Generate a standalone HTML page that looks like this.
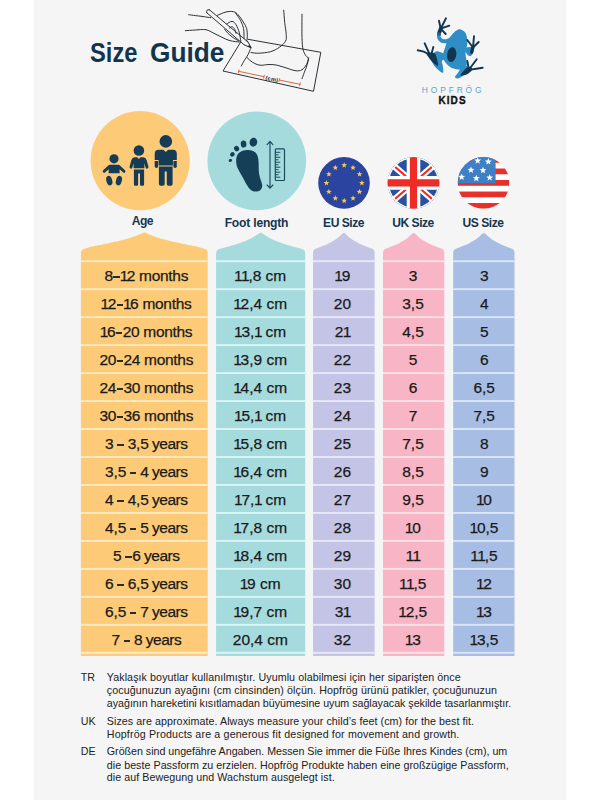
<!DOCTYPE html>
<html><head><meta charset="utf-8"><title>Size Guide</title>
<style>
html,body{margin:0;padding:0;background:#fff;}
body{width:600px;height:800px;position:relative;overflow:hidden;font-family:"Liberation Sans",sans-serif;}
#bg{position:absolute;left:34px;top:0;width:532px;height:800px;background:#f5f5f5;}
svg#art{position:absolute;left:0;top:0;}
.t{position:absolute;white-space:nowrap;}
#title{left:0;top:36.2px;font-size:28.4px;font-weight:bold;color:#12344d;line-height:32px;}
#title span{position:absolute;top:0;transform-origin:0 0;}
#tw1{left:90.2px;transform:scaleX(0.835);}
#tw2{left:149.7px;transform:scaleX(0.925);}
.lbl{position:absolute;font-size:12.1px;font-weight:bold;color:#17364f;text-align:center;white-space:nowrap;line-height:14px;letter-spacing:0;}
.c{position:absolute;height:27.97px;line-height:30.2px;font-size:15.5px;color:#1a1a1a;text-align:center;white-space:nowrap;-webkit-text-stroke:0.25px #1a1a1a;}
.note{position:absolute;font-size:10.7px;color:#222;white-space:nowrap;line-height:13px;}
.o{margin:0 -1.2px 0 -0.5px;}
.c-age{letter-spacing:-0.3px;}
.yr{word-spacing:-0.8px;letter-spacing:-0.15px;}
.ys{letter-spacing:-0.5px;}
.h{display:inline-block;width:6.4px;height:1.8px;background:#2b2b2b;vertical-align:3.3px;margin:0 0.5px;}
</style></head><body>
<div id="bg"></div>
<svg id="art" width="600" height="800" viewBox="0 0 600 800">
<path d="M80.9,655.9 V253.28 Q80.9,249.58 84.9,248.68 L85.4,248.53 L86.4,248.19 L87.4,247.83 L88.4,247.47 L89.4,247.13 L90.4,246.85 L91.4,246.63 L92.4,246.44 L93.4,246.25 L94.4,246.06 L95.4,245.87 L96.4,245.68 L97.4,245.49 L98.4,245.30 L99.4,245.11 L100.4,244.92 L101.4,244.72 L102.4,244.51 L103.4,244.29 L104.4,244.07 L105.4,243.85 L106.4,243.63 L107.4,243.41 L108.4,243.19 L109.4,242.96 L110.4,242.74 L111.4,242.52 L112.4,242.30 L113.4,242.07 L114.4,241.85 L115.4,241.62 L116.4,241.39 L117.4,241.16 L118.4,240.93 L119.4,240.70 L120.4,240.46 L121.4,240.23 L122.4,240.00 L123.4,239.77 L124.4,239.53 L125.4,239.27 L126.4,238.97 L127.4,238.66 L128.4,238.35 L129.4,238.04 L130.4,237.73 L131.4,237.42 L132.4,237.11 L133.4,236.79 L134.4,236.44 L135.4,236.06 L136.4,235.65 L137.4,235.24 L138.4,234.83 L139.4,234.42 L140.4,234.00 L141.4,233.58 L142.4,233.15 L143.4,232.77 L144.4,232.62 L145.4,232.83 L146.4,233.24 L147.4,233.67 L148.4,234.09 L149.4,234.50 L150.4,234.91 L151.4,235.32 L152.4,235.74 L153.4,236.14 L154.4,236.52 L155.4,236.85 L156.4,237.17 L157.4,237.48 L158.4,237.79 L159.4,238.10 L160.4,238.41 L161.4,238.72 L162.4,239.03 L163.4,239.32 L164.4,239.58 L165.4,239.82 L166.4,240.05 L167.4,240.28 L168.4,240.51 L169.4,240.74 L170.4,240.97 L171.4,241.20 L172.4,241.43 L173.4,241.66 L174.4,241.89 L175.4,242.12 L176.4,242.34 L177.4,242.56 L178.4,242.79 L179.4,243.01 L180.4,243.23 L181.4,243.45 L182.4,243.67 L183.4,243.89 L184.4,244.12 L185.4,244.34 L186.4,244.56 L187.4,244.76 L188.4,244.96 L189.4,245.15 L190.4,245.34 L191.4,245.53 L192.4,245.72 L193.4,245.91 L194.4,246.10 L195.4,246.29 L196.4,246.48 L197.4,246.67 L198.4,246.90 L199.4,247.20 L200.4,247.54 L201.4,247.90 L202.4,248.26 L203.4,248.59 L203.7,248.59 Q207.7,249.49 207.7,253.19 V655.9 Z" fill="#fdcb78"/>
<rect x="80.9" y="260.25" width="126.79999999999998" height="1.9" fill="#ffeac3"/>
<rect x="80.9" y="288.22" width="126.79999999999998" height="1.9" fill="#ffeac3"/>
<rect x="80.9" y="316.19" width="126.79999999999998" height="1.9" fill="#ffeac3"/>
<rect x="80.9" y="344.16" width="126.79999999999998" height="1.9" fill="#ffeac3"/>
<rect x="80.9" y="372.13" width="126.79999999999998" height="1.9" fill="#ffeac3"/>
<rect x="80.9" y="400.10" width="126.79999999999998" height="1.9" fill="#ffeac3"/>
<rect x="80.9" y="428.07" width="126.79999999999998" height="1.9" fill="#ffeac3"/>
<rect x="80.9" y="456.04" width="126.79999999999998" height="1.9" fill="#ffeac3"/>
<rect x="80.9" y="484.01" width="126.79999999999998" height="1.9" fill="#ffeac3"/>
<rect x="80.9" y="511.98" width="126.79999999999998" height="1.9" fill="#ffeac3"/>
<rect x="80.9" y="539.95" width="126.79999999999998" height="1.9" fill="#ffeac3"/>
<rect x="80.9" y="567.92" width="126.79999999999998" height="1.9" fill="#ffeac3"/>
<rect x="80.9" y="595.89" width="126.79999999999998" height="1.9" fill="#ffeac3"/>
<rect x="80.9" y="623.86" width="126.79999999999998" height="1.9" fill="#ffeac3"/>
<rect x="80.9" y="651.83" width="126.79999999999998" height="1.9" fill="#ffeac3"/>
<path d="M216.1,655.9 V253.43 Q216.1,249.73 220.1,248.83 L220.6,248.69 L221.6,248.40 L222.6,248.10 L223.6,247.81 L224.6,247.52 L225.6,247.24 L226.6,246.97 L227.6,246.70 L228.6,246.43 L229.6,246.16 L230.6,245.89 L231.6,245.62 L232.6,245.35 L233.6,245.07 L234.6,244.76 L235.6,244.43 L236.6,244.10 L237.6,243.76 L238.6,243.41 L239.6,243.06 L240.6,242.70 L241.6,242.34 L242.6,241.98 L243.6,241.60 L244.6,241.22 L245.6,240.84 L246.6,240.45 L247.6,240.03 L248.6,239.57 L249.6,239.09 L250.6,238.59 L251.6,238.04 L252.6,237.45 L253.6,236.84 L254.6,236.21 L255.6,235.58 L256.6,234.95 L257.6,234.30 L258.6,233.63 L259.6,232.97 L260.6,232.64 L261.6,232.92 L262.6,233.56 L263.6,234.24 L264.6,234.88 L265.6,235.52 L266.6,236.15 L267.6,236.78 L268.6,237.39 L269.6,237.98 L270.6,238.54 L271.6,239.04 L272.6,239.52 L273.6,239.98 L274.6,240.41 L275.6,240.80 L276.6,241.19 L277.6,241.57 L278.6,241.94 L279.6,242.30 L280.6,242.66 L281.6,243.02 L282.6,243.38 L283.6,243.72 L284.6,244.06 L285.6,244.40 L286.6,244.73 L287.6,245.04 L288.6,245.33 L289.6,245.60 L290.6,245.87 L291.6,246.14 L292.6,246.41 L293.6,246.68 L294.6,246.95 L295.6,247.22 L296.6,247.50 L297.6,247.78 L298.6,248.07 L299.6,248.37 L300.6,248.66 L301.2,248.80 Q305.2,249.70 305.2,253.40 V655.9 Z" fill="#a6dbde"/>
<rect x="216.1" y="260.25" width="89.1" height="1.9" fill="#d9f6f8"/>
<rect x="216.1" y="288.22" width="89.1" height="1.9" fill="#d9f6f8"/>
<rect x="216.1" y="316.19" width="89.1" height="1.9" fill="#d9f6f8"/>
<rect x="216.1" y="344.16" width="89.1" height="1.9" fill="#d9f6f8"/>
<rect x="216.1" y="372.13" width="89.1" height="1.9" fill="#d9f6f8"/>
<rect x="216.1" y="400.10" width="89.1" height="1.9" fill="#d9f6f8"/>
<rect x="216.1" y="428.07" width="89.1" height="1.9" fill="#d9f6f8"/>
<rect x="216.1" y="456.04" width="89.1" height="1.9" fill="#d9f6f8"/>
<rect x="216.1" y="484.01" width="89.1" height="1.9" fill="#d9f6f8"/>
<rect x="216.1" y="511.98" width="89.1" height="1.9" fill="#d9f6f8"/>
<rect x="216.1" y="539.95" width="89.1" height="1.9" fill="#d9f6f8"/>
<rect x="216.1" y="567.92" width="89.1" height="1.9" fill="#d9f6f8"/>
<rect x="216.1" y="595.89" width="89.1" height="1.9" fill="#d9f6f8"/>
<rect x="216.1" y="623.86" width="89.1" height="1.9" fill="#d9f6f8"/>
<rect x="216.1" y="651.83" width="89.1" height="1.9" fill="#d9f6f8"/>
<path d="M313.0,655.9 V252.91 Q313.0,249.21 317.0,248.31 L317.5,248.10 L318.5,247.68 L319.5,247.27 L320.5,246.88 L321.5,246.49 L322.5,246.10 L323.5,245.71 L324.5,245.31 L325.5,244.89 L326.5,244.42 L327.5,243.94 L328.5,243.44 L329.5,242.93 L330.5,242.41 L331.5,241.88 L332.5,241.33 L333.5,240.78 L334.5,240.19 L335.5,239.54 L336.5,238.83 L337.5,238.06 L338.5,237.21 L339.5,236.32 L340.5,235.40 L341.5,234.48 L342.5,233.55 L343.5,232.94 L344.5,233.11 L345.5,233.91 L346.5,234.85 L347.5,235.77 L348.5,236.68 L349.5,237.55 L350.5,238.38 L351.5,239.12 L352.5,239.81 L353.5,240.43 L354.5,241.00 L355.5,241.55 L356.5,242.09 L357.5,242.62 L358.5,243.13 L359.5,243.64 L360.5,244.13 L361.5,244.61 L362.5,245.06 L363.5,245.47 L364.5,245.86 L365.5,246.25 L366.5,246.64 L367.5,247.04 L368.5,247.44 L369.5,247.85 L370.5,248.27 L370.6,248.27 Q374.6,249.17 374.6,252.87 V655.9 Z" fill="#c3c4e6"/>
<rect x="313.0" y="260.25" width="61.60000000000002" height="1.9" fill="#e7e8fa"/>
<rect x="313.0" y="288.22" width="61.60000000000002" height="1.9" fill="#e7e8fa"/>
<rect x="313.0" y="316.19" width="61.60000000000002" height="1.9" fill="#e7e8fa"/>
<rect x="313.0" y="344.16" width="61.60000000000002" height="1.9" fill="#e7e8fa"/>
<rect x="313.0" y="372.13" width="61.60000000000002" height="1.9" fill="#e7e8fa"/>
<rect x="313.0" y="400.10" width="61.60000000000002" height="1.9" fill="#e7e8fa"/>
<rect x="313.0" y="428.07" width="61.60000000000002" height="1.9" fill="#e7e8fa"/>
<rect x="313.0" y="456.04" width="61.60000000000002" height="1.9" fill="#e7e8fa"/>
<rect x="313.0" y="484.01" width="61.60000000000002" height="1.9" fill="#e7e8fa"/>
<rect x="313.0" y="511.98" width="61.60000000000002" height="1.9" fill="#e7e8fa"/>
<rect x="313.0" y="539.95" width="61.60000000000002" height="1.9" fill="#e7e8fa"/>
<rect x="313.0" y="567.92" width="61.60000000000002" height="1.9" fill="#e7e8fa"/>
<rect x="313.0" y="595.89" width="61.60000000000002" height="1.9" fill="#e7e8fa"/>
<rect x="313.0" y="623.86" width="61.60000000000002" height="1.9" fill="#e7e8fa"/>
<rect x="313.0" y="651.83" width="61.60000000000002" height="1.9" fill="#e7e8fa"/>
<path d="M383.0,655.9 V252.90 Q383.0,249.20 387.0,248.30 L387.5,248.09 L388.5,247.67 L389.5,247.26 L390.5,246.86 L391.5,246.47 L392.5,246.08 L393.5,245.69 L394.5,245.29 L395.5,244.86 L396.5,244.39 L397.5,243.90 L398.5,243.40 L399.5,242.89 L400.5,242.36 L401.5,241.83 L402.5,241.28 L403.5,240.72 L404.5,240.12 L405.5,239.46 L406.5,238.75 L407.5,237.96 L408.5,237.10 L409.5,236.20 L410.5,235.28 L411.5,234.34 L412.5,233.43 L413.5,232.91 L414.5,233.21 L415.5,234.06 L416.5,235.00 L417.5,235.92 L418.5,236.83 L419.5,237.71 L420.5,238.52 L421.5,239.26 L422.5,239.93 L423.5,240.55 L424.5,241.12 L425.5,241.67 L426.5,242.20 L427.5,242.73 L428.5,243.25 L429.5,243.75 L430.5,244.24 L431.5,244.72 L432.5,245.16 L433.5,245.57 L434.5,245.96 L435.5,246.35 L436.5,246.75 L437.5,247.14 L438.5,247.55 L439.5,247.97 L440.3,248.18 Q444.3,249.08 444.3,252.78 V655.9 Z" fill="#f8b5c5"/>
<rect x="383.0" y="260.25" width="61.30000000000001" height="1.9" fill="#fee0e8"/>
<rect x="383.0" y="288.22" width="61.30000000000001" height="1.9" fill="#fee0e8"/>
<rect x="383.0" y="316.19" width="61.30000000000001" height="1.9" fill="#fee0e8"/>
<rect x="383.0" y="344.16" width="61.30000000000001" height="1.9" fill="#fee0e8"/>
<rect x="383.0" y="372.13" width="61.30000000000001" height="1.9" fill="#fee0e8"/>
<rect x="383.0" y="400.10" width="61.30000000000001" height="1.9" fill="#fee0e8"/>
<rect x="383.0" y="428.07" width="61.30000000000001" height="1.9" fill="#fee0e8"/>
<rect x="383.0" y="456.04" width="61.30000000000001" height="1.9" fill="#fee0e8"/>
<rect x="383.0" y="484.01" width="61.30000000000001" height="1.9" fill="#fee0e8"/>
<rect x="383.0" y="511.98" width="61.30000000000001" height="1.9" fill="#fee0e8"/>
<rect x="383.0" y="539.95" width="61.30000000000001" height="1.9" fill="#fee0e8"/>
<rect x="383.0" y="567.92" width="61.30000000000001" height="1.9" fill="#fee0e8"/>
<rect x="383.0" y="595.89" width="61.30000000000001" height="1.9" fill="#fee0e8"/>
<rect x="383.0" y="623.86" width="61.30000000000001" height="1.9" fill="#fee0e8"/>
<rect x="383.0" y="651.83" width="61.30000000000001" height="1.9" fill="#fee0e8"/>
<path d="M453.2,655.9 V252.90 Q453.2,249.20 457.2,248.30 L457.7,248.09 L458.7,247.67 L459.7,247.26 L460.7,246.86 L461.7,246.47 L462.7,246.08 L463.7,245.69 L464.7,245.29 L465.7,244.86 L466.7,244.39 L467.7,243.90 L468.7,243.40 L469.7,242.89 L470.7,242.36 L471.7,241.83 L472.7,241.28 L473.7,240.72 L474.7,240.12 L475.7,239.46 L476.7,238.75 L477.7,237.96 L478.7,237.10 L479.7,236.20 L480.7,235.28 L481.7,234.34 L482.7,233.43 L483.7,232.91 L484.7,233.21 L485.7,234.06 L486.7,235.00 L487.7,235.92 L488.7,236.83 L489.7,237.71 L490.7,238.52 L491.7,239.26 L492.7,239.93 L493.7,240.55 L494.7,241.12 L495.7,241.67 L496.7,242.20 L497.7,242.73 L498.7,243.25 L499.7,243.75 L500.7,244.24 L501.7,244.72 L502.7,245.16 L503.7,245.57 L504.7,245.96 L505.7,246.35 L506.7,246.75 L507.7,247.14 L508.7,247.55 L509.7,247.97 L510.5,248.18 Q514.5,249.08 514.5,252.78 V655.9 Z" fill="#a7bde4"/>
<rect x="453.2" y="260.25" width="61.30000000000001" height="1.9" fill="#dbe6fb"/>
<rect x="453.2" y="288.22" width="61.30000000000001" height="1.9" fill="#dbe6fb"/>
<rect x="453.2" y="316.19" width="61.30000000000001" height="1.9" fill="#dbe6fb"/>
<rect x="453.2" y="344.16" width="61.30000000000001" height="1.9" fill="#dbe6fb"/>
<rect x="453.2" y="372.13" width="61.30000000000001" height="1.9" fill="#dbe6fb"/>
<rect x="453.2" y="400.10" width="61.30000000000001" height="1.9" fill="#dbe6fb"/>
<rect x="453.2" y="428.07" width="61.30000000000001" height="1.9" fill="#dbe6fb"/>
<rect x="453.2" y="456.04" width="61.30000000000001" height="1.9" fill="#dbe6fb"/>
<rect x="453.2" y="484.01" width="61.30000000000001" height="1.9" fill="#dbe6fb"/>
<rect x="453.2" y="511.98" width="61.30000000000001" height="1.9" fill="#dbe6fb"/>
<rect x="453.2" y="539.95" width="61.30000000000001" height="1.9" fill="#dbe6fb"/>
<rect x="453.2" y="567.92" width="61.30000000000001" height="1.9" fill="#dbe6fb"/>
<rect x="453.2" y="595.89" width="61.30000000000001" height="1.9" fill="#dbe6fb"/>
<rect x="453.2" y="623.86" width="61.30000000000001" height="1.9" fill="#dbe6fb"/>
<rect x="453.2" y="651.83" width="61.30000000000001" height="1.9" fill="#dbe6fb"/>
<!-- circles -->
<circle cx="140.15" cy="160.7" r="49.6" fill="#fdcb78"/>
<circle cx="256.8" cy="160.9" r="49.35" fill="#a6dbde"/>
<g fill="#153b57"><circle cx="165.8" cy="141.4" r="6.3"/><path d="M158.6,149.8 H163.4 L165.8,152 L168.2,149.8 H173 Q176.8,149.8 176.8,153.6 V160.1 H172.9 V165.6 H158.6 V160.1 H154.7 V153.6 Q154.7,149.8 158.6,149.8Z"/><path d="M154.7,160.9 H158.1 V166.3 Q158.1,168 156.4,168 Q154.7,168 154.7,166.3Z"/><path d="M173.4,160.9 H176.8 V166.3 Q176.8,168 175.1,168 Q173.4,168 173.4,166.3Z"/><path d="M158.9,166.6 H172.6 V184 Q172.6,185.8 170.8,185.8 H168.6 Q166.8,185.8 166.8,184 V171.6 H164.7 V184 Q164.7,185.8 162.9,185.8 H160.7 Q158.9,185.8 158.9,184Z"/><circle cx="138.9" cy="150.5" r="5.3"/><path d="M134.6,157.3 H137.2 L138.9,158.9 L140.6,157.3 H143.2 Q145.8,157.3 146.6,160 L148.4,166.6 Q148.8,168.2 147.4,168.6 Q146,169 145.6,167.5 L144.4,163.2 V168.3 H133.6 V163.2 L132.4,167.5 Q132,169 130.6,168.6 Q129.2,168.2 129.6,166.6 L131.4,160 Q132.2,157.3 134.6,157.3Z"/><path d="M133.9,169.5 H144.1 V184.4 Q144.1,185.8 142.7,185.8 H141.4 Q140,185.8 140,184.4 V173.5 H138.1 V184.4 Q138.1,185.8 136.7,185.8 H135.3 Q133.9,185.8 133.9,184.4Z"/><circle cx="114" cy="158.8" r="4.6"/><path d="M110.3,164.8 H117.9 Q119.4,164.8 120.5,165.9 L125,170.3 Q126,171.4 125,172.4 Q124,173.3 122.9,172.3 L119.6,169.2 V173.2 H108.6 V169.2 L105.3,172.3 Q104.2,173.3 103.2,172.4 Q102.2,171.4 103.2,170.3 L107.7,165.9 Q108.8,164.8 110.3,164.8Z"/><ellipse cx="109.3" cy="180.6" rx="2.9" ry="4.9" transform="rotate(-16 109.3 180.6)"/><ellipse cx="118.9" cy="180.6" rx="2.9" ry="4.9" transform="rotate(16 118.9 180.6)"/></g>
<g fill="#143f57"><path d="M247.2,150 C252,149.8 256,151.5 257.6,156 C259,160 258.6,166 258.8,171 C259,176 261,180 262,184 C263,188 260.5,191.6 255.6,191.6 C251.5,191.6 248,187.5 245.4,182.4 C243,177.5 240,173 237.6,168 C236,164.5 235.8,160 236.6,157 C237.8,152.5 242,150.2 247.2,150Z"/><ellipse cx="253.4" cy="142.2" rx="3.8" ry="4.5" transform="rotate(12 253.4 142.2)"/><ellipse cx="243.6" cy="144" rx="2.8" ry="3.6" transform="rotate(-8 243.6 144)"/><ellipse cx="236.6" cy="148.6" rx="2.5" ry="2.8" transform="rotate(-30 236.6 148.6)"/><ellipse cx="232.4" cy="154.4" rx="2.4" ry="2.2" transform="rotate(-30 232.4 154.4)"/><ellipse cx="230.4" cy="160.4" rx="1.8" ry="1.4" transform="rotate(-20 230.4 160.4)"/></g>
<g stroke="#194a5e"><path d="M270,141.6 V188 M267.1,144.6 L270,141.4 L272.9,144.6 M267.1,185 L270,188.2 L272.9,185" fill="none" stroke-width="1.15" stroke-linecap="round" stroke-linejoin="round"/><rect x="275.3" y="148.9" width="9.2" height="31.6" rx="1" fill="none" stroke-width="1.2"/><path d="M275.9,152.30 h4.4 M275.9,154.79 h2.6 M275.9,157.28 h4.4 M275.9,159.77 h2.6 M275.9,162.26 h4.4 M275.9,164.75 h2.6 M275.9,167.24 h4.4 M275.9,169.73 h2.6 M275.9,172.22 h4.4 M275.9,174.71 h2.6 M275.9,177.20 h4.4" stroke-width="1" fill="none"/></g>
<circle cx="344" cy="182.9" r="25.8" fill="#2b44a0"/><path d="M344.20,162.30 L344.94,164.28 L347.05,164.37 L345.40,165.69 L345.96,167.73 L344.20,166.56 L342.44,167.73 L343.00,165.69 L341.35,164.37 L343.46,164.28Z" fill="#f5cf3e"/><path d="M353.05,164.67 L353.79,166.65 L355.90,166.74 L354.25,168.06 L354.81,170.10 L353.05,168.93 L351.29,170.10 L351.85,168.06 L350.20,166.74 L352.31,166.65Z" fill="#f5cf3e"/><path d="M359.53,171.15 L360.27,173.13 L362.38,173.22 L360.73,174.54 L361.29,176.58 L359.53,175.41 L357.77,176.58 L358.33,174.54 L356.68,173.22 L358.79,173.13Z" fill="#f5cf3e"/><path d="M361.90,180.00 L362.64,181.98 L364.75,182.07 L363.10,183.39 L363.66,185.43 L361.90,184.26 L360.14,185.43 L360.70,183.39 L359.05,182.07 L361.16,181.98Z" fill="#f5cf3e"/><path d="M359.53,188.85 L360.27,190.83 L362.38,190.92 L360.73,192.24 L361.29,194.28 L359.53,193.11 L357.77,194.28 L358.33,192.24 L356.68,190.92 L358.79,190.83Z" fill="#f5cf3e"/><path d="M353.05,195.33 L353.79,197.31 L355.90,197.40 L354.25,198.72 L354.81,200.76 L353.05,199.59 L351.29,200.76 L351.85,198.72 L350.20,197.40 L352.31,197.31Z" fill="#f5cf3e"/><path d="M344.20,197.70 L344.94,199.68 L347.05,199.77 L345.40,201.09 L345.96,203.13 L344.20,201.96 L342.44,203.13 L343.00,201.09 L341.35,199.77 L343.46,199.68Z" fill="#f5cf3e"/><path d="M335.35,195.33 L336.09,197.31 L338.20,197.40 L336.55,198.72 L337.11,200.76 L335.35,199.59 L333.59,200.76 L334.15,198.72 L332.50,197.40 L334.61,197.31Z" fill="#f5cf3e"/><path d="M328.87,188.85 L329.61,190.83 L331.72,190.92 L330.07,192.24 L330.63,194.28 L328.87,193.11 L327.11,194.28 L327.67,192.24 L326.02,190.92 L328.13,190.83Z" fill="#f5cf3e"/><path d="M326.50,180.00 L327.24,181.98 L329.35,182.07 L327.70,183.39 L328.26,185.43 L326.50,184.26 L324.74,185.43 L325.30,183.39 L323.65,182.07 L325.76,181.98Z" fill="#f5cf3e"/><path d="M328.87,171.15 L329.61,173.13 L331.72,173.22 L330.07,174.54 L330.63,176.58 L328.87,175.41 L327.11,176.58 L327.67,174.54 L326.02,173.22 L328.13,173.13Z" fill="#f5cf3e"/><path d="M335.35,164.67 L336.09,166.65 L338.20,166.74 L336.55,168.06 L337.11,170.10 L335.35,168.93 L333.59,170.10 L334.15,168.06 L332.50,166.74 L334.61,166.65Z" fill="#f5cf3e"/>
<clipPath id="ukc"><circle cx="413.5" cy="182.9" r="25.9"/></clipPath><g clip-path="url(#ukc)"><rect x="383.5" y="155.9" width="60" height="54" fill="#2a50a2"/><path d="M383.5,156.9 L443.5,208.9 M443.5,156.9 L383.5,208.9" stroke="#fff" stroke-width="6.4"/><path d="M383.5,156.9 L443.5,208.9 M443.5,156.9 L383.5,208.9" stroke="#ee2b25" stroke-width="2.1"/><circle cx="413.5" cy="182.9" r="25.2" fill="none" stroke="#fff" stroke-width="1.6"/><path d="M413.5,152.9 V212.9 M383.5,182.9 H443.5" stroke="#fff" stroke-width="13.6"/><path d="M413.5,152.9 V212.9 M383.5,182.9 H443.5" stroke="#ee2b25" stroke-width="7.2"/></g>
<clipPath id="usc"><circle cx="483.5" cy="182.9" r="25.9"/></clipPath><g clip-path="url(#usc)"><rect x="457.6" y="157.0" width="51.8" height="51.8" fill="#fff"/><rect x="457.6" y="157.00" width="51.8" height="5.76" fill="#e8302a"/><rect x="457.6" y="168.51" width="51.8" height="5.76" fill="#e8302a"/><rect x="457.6" y="180.02" width="51.8" height="5.76" fill="#e8302a"/><rect x="457.6" y="191.53" width="51.8" height="5.76" fill="#e8302a"/><rect x="457.6" y="203.04" width="51.8" height="5.76" fill="#e8302a"/><rect x="457.6" y="157.0" width="38.00" height="26.20" fill="#3f7fc6"/><path d="M477.67,157.13 L478.58,159.48 L481.09,159.62 L479.14,161.21 L479.78,163.65 L477.67,162.28 L475.55,163.65 L476.19,161.21 L474.24,159.62 L476.76,159.48Z" fill="#fff"/><path d="M488.33,158.07 L489.24,160.41 L491.76,160.55 L489.81,162.15 L490.45,164.58 L488.33,163.22 L486.22,164.58 L486.86,162.15 L484.91,160.55 L487.42,160.41Z" fill="#fff"/><path d="M471.00,166.47 L471.91,168.81 L474.42,168.95 L472.47,170.55 L473.12,172.98 L471.00,171.62 L468.88,172.98 L469.53,170.55 L467.58,168.95 L470.09,168.81Z" fill="#fff"/><path d="M483.00,166.73 L483.91,169.08 L486.42,169.22 L484.47,170.81 L485.12,173.25 L483.00,171.88 L480.88,173.25 L481.53,170.81 L479.58,169.22 L482.09,169.08Z" fill="#fff"/><path d="M461.67,173.40 L462.58,175.75 L465.09,175.89 L463.14,177.48 L463.78,179.91 L461.67,178.55 L459.55,179.91 L460.19,177.48 L458.24,175.89 L460.76,175.75Z" fill="#fff"/><path d="M476.33,174.73 L477.24,177.08 L479.76,177.22 L477.81,178.81 L478.45,181.25 L476.33,179.88 L474.22,181.25 L474.86,178.81 L472.91,177.22 L475.42,177.08Z" fill="#fff"/><path d="M489.67,174.07 L490.58,176.41 L493.09,176.55 L491.14,178.15 L491.78,180.58 L489.67,179.22 L487.55,180.58 L488.19,178.15 L486.24,176.55 L488.76,176.41Z" fill="#fff"/></g>
<path d="M460.7,29.5 C462.2,30.0 464.7,31.3 465.8,33.5 C466.9,35.7 467.4,39.4 467.4,42.7 C467.3,46.0 465.6,49.8 465.5,53.3 C465.4,56.8 467.2,61.4 466.8,64.0 C466.4,66.7 464.9,68.4 463.0,69.2 C461.1,70.0 457.6,69.5 455.3,69.0 C453.1,68.5 451.4,68.0 449.5,66.5 C447.6,65.0 444.9,62.1 443.8,60.0 C442.8,57.9 443.0,56.1 443.2,54.0 C443.4,51.9 444.5,49.5 445.2,47.3 C445.9,45.0 446.3,42.8 447.6,40.5 C448.9,38.2 451.3,35.5 452.8,33.8 C454.3,32.1 455.2,31.2 456.5,30.5 C457.8,29.8 459.1,29.0 460.7,29.5Z" fill="#2e8ec5"/>
<path d="M452,38.5 C449,41.2 444,42 441.3,40.5 C438.6,39 438.3,35 439.3,32 L440.7,28.7" fill="none" stroke="#2e8ec5" stroke-width="3.8" stroke-linecap="round"/>
<path d="M439.4,32.6 L440.9,28.2" fill="none" stroke="#12364f" stroke-width="3.4" stroke-linecap="round"/>
<path d="M438.9,35.5 L439.3,32.5" fill="none" stroke="#1f6390" stroke-width="3.7"/>
<path d="M440.7,28.7 L439,20.7 M440.7,28.7 L446,18.3 M440.7,28.7 L449.3,25.7 M440.7,28.7 L445.7,34" stroke="#12364f" stroke-width="1.9" stroke-linecap="round" fill="none"/>
<path d="M464.8,48.8 C465.1,47.6 467.6,47.2 469.0,47.0 C470.4,46.8 472.2,46.8 473.0,47.4 C473.8,48.0 474.3,49.3 474.0,50.7 C473.7,52.1 472.2,55.2 471.0,55.8 C469.8,56.4 468.0,55.4 467.0,54.2 C466.0,53.0 464.5,50.0 464.8,48.8Z" fill="#2e8ec5"/>
<path d="M473,47.3 L471.5,52.3" stroke="#12364f" stroke-width="3.2" stroke-linecap="round" fill="none"/>
<path d="M473,47.5 L467.3,40 M473,47.5 L474,36.3 M473,47.5 L478.7,42" stroke="#12364f" stroke-width="1.9" stroke-linecap="round" fill="none"/>
<path d="M435.3,51.8 C436.8,50.8 438.4,51.5 440.0,52.0 C441.6,52.5 444.2,53.3 445.0,54.5 C445.8,55.7 445.3,57.9 444.8,59.0 C444.3,60.1 442.1,59.8 441.8,61.0 C441.5,62.2 442.6,64.0 442.8,66.0 C443.0,68.0 443.8,72.2 443.0,72.8 C442.2,73.4 439.6,71.2 438.0,69.8 C436.4,68.4 434.4,66.3 433.3,64.3 C432.2,62.3 431.0,60.1 431.3,58.0 C431.6,55.9 433.9,52.8 435.3,51.8Z" fill="#2e8ec5"/>
<path d="M426.6,53.6 C426.9,52.6 429.9,52.4 431.3,52.4 C432.7,52.4 434.1,52.5 435.0,53.6 C435.9,54.8 436.5,57.3 437.0,59.3 C437.5,61.3 438.5,64.9 438.0,65.6 C437.5,66.3 435.4,64.8 434.0,63.6 C432.6,62.4 430.6,60.1 429.4,58.4 C428.2,56.7 426.3,54.6 426.6,53.6Z" fill="#12364f"/>
<path d="M429.3,54.5 Q424,51 417.7,50.3 M429.5,54 L424.7,43.3 M431.5,54 L433.3,47" stroke="#12364f" stroke-width="1.9" stroke-linecap="round" fill="none"/>
<path d="M463.0,65.3 C464.6,64.5 467.7,65.8 467.8,67.4 C467.9,69.0 465.4,73.2 463.8,75.0 C462.2,76.8 459.5,78.1 458.0,78.4 C456.5,78.7 454.9,78.0 455.0,77.0 C455.1,76.0 457.0,74.2 458.3,72.3 C459.6,70.3 461.4,66.1 463.0,65.3Z" fill="#2e8ec5"/>
<path d="M468.6,66.8 C470.0,66.6 472.8,68.1 472.4,69.4 C472.0,70.7 468.4,73.6 466.4,74.6 C464.4,75.6 461.0,76.1 460.6,75.4 C460.2,74.7 462.7,71.8 464.0,70.4 C465.3,69.0 467.2,67.0 468.6,66.8Z" fill="#12364f"/>
<path d="M468.7,68.5 L467.3,61 M469.8,68.5 L476.7,59.3 M470.5,69.6 Q476,68.6 482.7,67.7" stroke="#12364f" stroke-width="1.9" stroke-linecap="round" fill="none"/>
<ellipse cx="451.7" cy="54.7" rx="4.6" ry="7.4" transform="rotate(8 451.7 54.7)" fill="#12364f"/>
<path d="M188.7,14.7 C189.8,14.8 193.1,15.3 195.3,15.6 C197.6,15.9 199.4,16.0 202.0,16.4 C204.6,16.8 209.2,17.5 210.7,17.7 M217.3,15.3 C218.8,14.8 223.3,12.6 226.0,12.0 C228.7,11.4 231.3,11.2 233.3,11.6 C235.3,12.0 236.3,12.9 238.0,14.7 C239.7,16.4 241.9,19.7 243.3,22.0 C244.8,24.3 246.0,26.2 246.7,28.7 C247.3,31.1 247.3,34.6 247.3,36.7 C247.3,38.7 246.8,40.2 246.7,40.9 M235.3,12.7 C236.2,14.0 239.3,18.0 240.7,20.7 C242.0,23.3 243.0,25.7 243.6,28.7 C244.2,31.6 243.9,36.7 244.0,38.3 M226.7,24.0 C227.6,23.6 230.4,21.2 232.0,21.3 C233.6,21.4 234.8,22.8 236.0,24.7 C237.2,26.6 238.6,30.0 239.3,32.7 C240.1,35.3 240.4,39.3 240.7,40.7 M229.3,28.3 C229.8,28.0 231.1,26.5 232.0,26.7 C232.9,26.8 234.0,28.2 234.7,29.3 C235.3,30.4 235.8,32.7 236.0,33.3 M224.7,29.3 C225.1,29.9 226.0,31.3 227.3,32.7 C228.7,34.0 230.8,36.0 232.7,37.3 C234.6,38.7 237.7,40.3 238.7,40.9 M185.3,30.7 C187.0,30.6 191.9,30.2 195.3,30.0 C198.8,29.8 202.9,29.2 206.0,29.7 C209.1,30.3 211.3,32.1 214.0,33.3 C216.7,34.6 219.3,36.1 222.0,37.3 C224.7,38.6 227.1,39.9 230.0,40.7 C232.9,41.4 237.8,41.8 239.3,42.0 M209.3,9.7 L248,42 M206.7,12.7 L244,44.7 M206.7,12.7 Q205.8,9.2 209.3,9.7 M248,42 L251.3,48 L244,44.7 M240.7,42 L223,71 L313.5,91.3 L320.8,52.3 L248,39.3 M283.7,10.2 C283.9,12.2 284.3,18.4 284.7,22.5 C285.2,26.5 286.1,31.4 286.2,34.5 C286.4,37.6 286.6,39.1 285.5,41.2 C284.4,43.4 282.0,45.5 279.5,47.2 C277.0,49.0 274.0,50.7 270.5,51.7 C267.0,52.7 261.7,53.1 258.5,53.2 C255.2,53.4 252.2,52.6 251.0,52.5 M247.2,57.7 C248.1,58.5 250.4,61.0 252.5,62.2 C254.6,63.5 257.2,64.9 260.0,65.2 C262.7,65.6 266.1,64.5 269.0,64.5 C271.9,64.5 274.2,64.6 277.2,65.2 C280.2,65.9 283.9,67.3 287.0,68.2 C290.1,69.2 293.5,70.5 296.0,70.8 C298.5,71.0 300.2,70.8 302.0,69.7 C303.7,68.7 305.4,66.4 306.5,64.5 C307.5,62.6 308.4,60.0 308.3,58.5 C308.2,57.0 306.6,57.0 305.7,55.5 C304.9,54.0 303.7,52.5 303.0,49.5 C302.4,46.5 302.2,43.4 302.0,37.5 C301.8,31.6 302.0,18.1 302.0,14.2 M250.5,48.7 C250.1,49.7 249.0,52.7 248.0,54.7 C246.9,56.7 245.4,58.9 244.2,60.7 C243.1,62.6 241.7,65.1 241.2,66.0 M308.7,57.7 C308.5,58.9 308.0,62.0 307.2,64.5 C306.5,67.0 305.1,70.4 304.2,72.7 C303.4,75.1 302.4,77.7 302.0,78.7" fill="none" stroke="#23272b" stroke-width="0.95" stroke-linecap="round" stroke-linejoin="round"/>
<path d="M249.4,44.9 L251.4,48.1 L247.4,46.3 Z" fill="#23272b"/>
<path d="M238.7,71.3 L264,76.7 M279.3,80 L300,84.3 M239.1,69.5 L238.3,73.1 M264.4,74.9 L263.6,78.5 M279.7,78.2 L278.9,81.8 M300.4,82.5 L299.6,86.1" stroke="#e8623a" stroke-width="1" fill="none"/>
<text x="265.2" y="79.6" font-family="Liberation Sans, sans-serif" font-weight="bold" font-size="5.6" fill="#1a1a1a" transform="rotate(12 265.2 79.6)" letter-spacing="0.3">(cm)</text>
</svg>
<div class="t" id="hop" style="left:421.8px;top:84.8px;font-size:8.4px;line-height:10px;color:#5ba6c9;letter-spacing:2.9px;">HOPFRÖG</div>
<div class="t" id="kids" style="left:438.4px;top:94.6px;font-size:10px;line-height:12px;font-weight:bold;color:#111;letter-spacing:1.1px;-webkit-text-stroke:0.35px #111;">KIDS</div>
<div id="title" class="t"><span id="tw1">Size</span><span id="tw2">Guide</span></div>
<div class="lbl" style="left:110.4px;width:64px;top:213.9px;letter-spacing:-0.5px">Age</div>
<div class="lbl" style="left:206.5px;width:100px;top:216.4px;letter-spacing:-0.2px">Foot length</div>
<div class="lbl" style="left:303.5px;width:80px;top:216.4px;letter-spacing:-0.5px">EU Size</div>
<div class="lbl" style="left:373px;width:80px;top:216.4px;letter-spacing:-0.5px">UK Size</div>
<div class="lbl" style="left:443px;width:80px;top:216.4px;letter-spacing:-0.5px">US Size</div>
<div class="c c-age" style="left:82.90px;width:126.79999999999998px;top:261px">8<span class="h"></span><span class="o">1</span>2 months</div>
<div class="c c-age" style="left:82.90px;width:126.79999999999998px;top:289px"><span class="o">1</span>2<span class="h"></span><span class="o">1</span>6 months</div>
<div class="c c-age" style="left:82.90px;width:126.79999999999998px;top:317px"><span class="o">1</span>6<span class="h"></span>20 months</div>
<div class="c c-age" style="left:82.90px;width:126.79999999999998px;top:345px">20<span class="h"></span>24 months</div>
<div class="c c-age" style="left:82.90px;width:126.79999999999998px;top:373px">24<span class="h"></span>30 months</div>
<div class="c c-age" style="left:82.90px;width:126.79999999999998px;top:401px">30<span class="h"></span>36 months</div>
<div class="c c-age yr" style="left:82.90px;width:126.79999999999998px;top:429px">3 <span class="h"></span> 3,5 <span class="ys">years</span></div>
<div class="c c-age yr" style="left:82.90px;width:126.79999999999998px;top:457px">3,5 <span class="h"></span> 4 <span class="ys">years</span></div>
<div class="c c-age yr" style="left:82.90px;width:126.79999999999998px;top:485px">4 <span class="h"></span> 4,5 <span class="ys">years</span></div>
<div class="c c-age yr" style="left:82.90px;width:126.79999999999998px;top:513px">4,5 <span class="h"></span> 5 <span class="ys">years</span></div>
<div class="c c-age yr" style="left:82.90px;width:126.79999999999998px;top:541px">5 <span class="h"></span>6 <span class="ys">years</span></div>
<div class="c c-age yr" style="left:82.90px;width:126.79999999999998px;top:569px">6 <span class="h"></span> 6,5 <span class="ys">years</span></div>
<div class="c c-age yr" style="left:82.90px;width:126.79999999999998px;top:597px">6,5 <span class="h"></span> 7 <span class="ys">years</span></div>
<div class="c c-age yr" style="left:82.90px;width:126.79999999999998px;top:625px">7 <span class="h"></span> 8 <span class="ys">years</span></div>
<div class="c c-foot" style="left:215.85px;width:89.1px;top:261px"><span class="o">1</span><span class="o">1</span>,8 cm</div>
<div class="c c-foot" style="left:215.85px;width:89.1px;top:289px"><span class="o">1</span>2,4 cm</div>
<div class="c c-foot" style="left:215.85px;width:89.1px;top:317px"><span class="o">1</span>3,<span class="o">1</span> cm</div>
<div class="c c-foot" style="left:215.85px;width:89.1px;top:345px"><span class="o">1</span>3,9 cm</div>
<div class="c c-foot" style="left:215.85px;width:89.1px;top:373px"><span class="o">1</span>4,4 cm</div>
<div class="c c-foot" style="left:215.85px;width:89.1px;top:401px"><span class="o">1</span>5,<span class="o">1</span> cm</div>
<div class="c c-foot" style="left:215.85px;width:89.1px;top:429px"><span class="o">1</span>5,8 cm</div>
<div class="c c-foot" style="left:215.85px;width:89.1px;top:457px"><span class="o">1</span>6,4 cm</div>
<div class="c c-foot" style="left:215.85px;width:89.1px;top:485px"><span class="o">1</span>7,<span class="o">1</span> cm</div>
<div class="c c-foot" style="left:215.85px;width:89.1px;top:513px"><span class="o">1</span>7,8 cm</div>
<div class="c c-foot" style="left:215.85px;width:89.1px;top:541px"><span class="o">1</span>8,4 cm</div>
<div class="c c-foot" style="left:215.85px;width:89.1px;top:569px"><span class="o">1</span>9 cm</div>
<div class="c c-foot" style="left:215.85px;width:89.1px;top:597px"><span class="o">1</span>9,7 cm</div>
<div class="c c-foot" style="left:215.85px;width:89.1px;top:625px">20,4 cm</div>
<div class="c c-eu" style="left:311.70px;width:61.60000000000002px;top:261px"><span class="o">1</span>9</div>
<div class="c c-eu" style="left:311.70px;width:61.60000000000002px;top:289px">20</div>
<div class="c c-eu" style="left:311.70px;width:61.60000000000002px;top:317px">2<span class="o">1</span></div>
<div class="c c-eu" style="left:311.70px;width:61.60000000000002px;top:345px">22</div>
<div class="c c-eu" style="left:311.70px;width:61.60000000000002px;top:373px">23</div>
<div class="c c-eu" style="left:311.70px;width:61.60000000000002px;top:401px">24</div>
<div class="c c-eu" style="left:311.70px;width:61.60000000000002px;top:429px">25</div>
<div class="c c-eu" style="left:311.70px;width:61.60000000000002px;top:457px">26</div>
<div class="c c-eu" style="left:311.70px;width:61.60000000000002px;top:485px">27</div>
<div class="c c-eu" style="left:311.70px;width:61.60000000000002px;top:513px">28</div>
<div class="c c-eu" style="left:311.70px;width:61.60000000000002px;top:541px">29</div>
<div class="c c-eu" style="left:311.70px;width:61.60000000000002px;top:569px">30</div>
<div class="c c-eu" style="left:311.70px;width:61.60000000000002px;top:597px">3<span class="o">1</span></div>
<div class="c c-eu" style="left:311.70px;width:61.60000000000002px;top:625px">32</div>
<div class="c c-uk" style="left:382.35px;width:61.30000000000001px;top:261px">3</div>
<div class="c c-uk" style="left:382.35px;width:61.30000000000001px;top:289px">3,5</div>
<div class="c c-uk" style="left:382.35px;width:61.30000000000001px;top:317px">4,5</div>
<div class="c c-uk" style="left:382.35px;width:61.30000000000001px;top:345px">5</div>
<div class="c c-uk" style="left:382.35px;width:61.30000000000001px;top:373px">6</div>
<div class="c c-uk" style="left:382.35px;width:61.30000000000001px;top:401px">7</div>
<div class="c c-uk" style="left:382.35px;width:61.30000000000001px;top:429px">7,5</div>
<div class="c c-uk" style="left:382.35px;width:61.30000000000001px;top:457px">8,5</div>
<div class="c c-uk" style="left:382.35px;width:61.30000000000001px;top:485px">9,5</div>
<div class="c c-uk" style="left:382.35px;width:61.30000000000001px;top:513px"><span class="o">1</span>0</div>
<div class="c c-uk" style="left:382.35px;width:61.30000000000001px;top:541px"><span class="o">1</span><span class="o">1</span></div>
<div class="c c-uk" style="left:382.35px;width:61.30000000000001px;top:569px"><span class="o">1</span><span class="o">1</span>,5</div>
<div class="c c-uk" style="left:382.35px;width:61.30000000000001px;top:597px"><span class="o">1</span>2,5</div>
<div class="c c-uk" style="left:382.35px;width:61.30000000000001px;top:625px"><span class="o">1</span>3</div>
<div class="c c-us" style="left:453.55px;width:61.30000000000001px;top:261px">3</div>
<div class="c c-us" style="left:453.55px;width:61.30000000000001px;top:289px">4</div>
<div class="c c-us" style="left:453.55px;width:61.30000000000001px;top:317px">5</div>
<div class="c c-us" style="left:453.55px;width:61.30000000000001px;top:345px">6</div>
<div class="c c-us" style="left:453.55px;width:61.30000000000001px;top:373px">6,5</div>
<div class="c c-us" style="left:453.55px;width:61.30000000000001px;top:401px">7,5</div>
<div class="c c-us" style="left:453.55px;width:61.30000000000001px;top:429px">8</div>
<div class="c c-us" style="left:453.55px;width:61.30000000000001px;top:457px">9</div>
<div class="c c-us" style="left:453.55px;width:61.30000000000001px;top:485px"><span class="o">1</span>0</div>
<div class="c c-us" style="left:453.55px;width:61.30000000000001px;top:513px"><span class="o">1</span>0,5</div>
<div class="c c-us" style="left:453.55px;width:61.30000000000001px;top:541px"><span class="o">1</span><span class="o">1</span>,5</div>
<div class="c c-us" style="left:453.55px;width:61.30000000000001px;top:569px"><span class="o">1</span>2</div>
<div class="c c-us" style="left:453.55px;width:61.30000000000001px;top:597px"><span class="o">1</span>3</div>
<div class="c c-us" style="left:453.55px;width:61.30000000000001px;top:625px"><span class="o">1</span>3,5</div>
<div class="note" style="left:80.7px;top:670.6px">TR</div>
<div class="note n" id="n1" style="letter-spacing:0.08px;left:106.8px;top:670.6px">Yaklaşık boyutlar kullanılmıştır. Uyumlu olabilmesi için her siparişten önce</div>
<div class="note n" id="n2" style="letter-spacing:0.092px;left:106.8px;top:683.9px">çocuğunuzun ayağını (cm cinsinden) ölçün. Hopfrög ürünü patikler, çocuğunuzun</div>
<div class="note n" id="n3" style="letter-spacing:-0.024px;left:106.8px;top:697.2px">ayağının hareketini kısıtlamadan büyümesine uyum sağlayacak şekilde tasarlanmıştır.</div>
<div class="note" style="left:80.7px;top:714.6px">UK</div>
<div class="note n" id="n4" style="letter-spacing:0.065px;left:106.8px;top:714.6px">Sizes are approximate. Always measure your child’s feet (cm) for the best fit.</div>
<div class="note n" id="n5" style="letter-spacing:0.143px;left:106.8px;top:727.9px">Hopfrög Products are a generous fit designed for movement and growth.</div>
<div class="note" style="left:80.7px;top:745.2px">DE</div>
<div class="note n" id="n6" style="letter-spacing:-0.022px;left:106.8px;top:745.2px">Größen sind ungefähre Angaben. Messen Sie immer die Füße Ihres Kindes (cm), um</div>
<div class="note n" id="n7" style="letter-spacing:0.034px;left:106.8px;top:758.6px">die beste Passform zu erzielen. Hopfrög Produkte haben eine großzügige Passform,</div>
<div class="note n" id="n8" style="letter-spacing:0.058px;left:106.8px;top:771.4px">die auf Bewegung und Wachstum ausgelegt ist.</div>

</body></html>
